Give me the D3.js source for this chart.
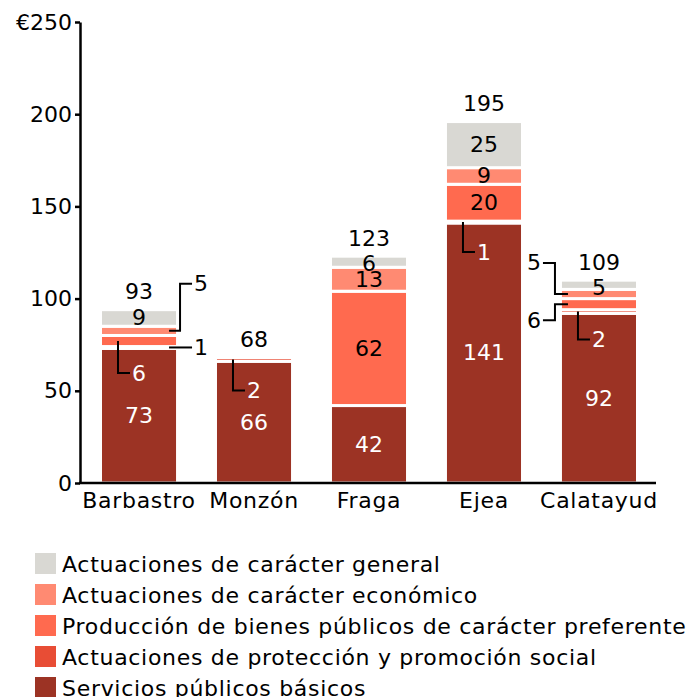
<!DOCTYPE html>
<html lang="es">
<head>
<meta charset="UTF-8">
<title>Gasto por grupos de función</title>
<script src="https://d3js.org/d3.v7.min.js"></script>
<style>
  body { margin: 0; background: #fff; }
  svg text { font-family: "DejaVu Sans", Verdana, sans-serif; font-size: 22px; }
  .axis path, .axis line { stroke: #000; stroke-width: 2.5px; }
  .axis text { fill: #000; }
  .x.axis text, .legend text { letter-spacing: 0.7px; }
  .leader { fill: none; stroke: #000; stroke-width: 2px; }
</style>
</head>
<body>
<script>
// datos
const cities = ["Barbastro", "Monzón", "Fraga", "Ejea", "Calatayud"];
const seriesNames = [
  "Servicios públicos básicos",
  "Actuaciones de protección y promoción social",
  "Producción de bienes públicos de carácter preferente",
  "Actuaciones de carácter económico",
  "Actuaciones de carácter general"
];
const serviciosBasicos = [73, 66, 42, 141, 92];
const proteccionSocial = [1, 2, 0, 1, 2];
const bienesPreferentes = [6, 0, 62, 20, 6];
const caracterEconomico = [5, 0, 13, 9, 5];
const caracterGeneral = [9, 0, 6, 25, 5];
const totals = [93, 68, 123, 195, 109];
const yTicks = [0, 50, 100, 150, 200, 250];
const colors = ["#9c3324", "#e84d35", "#ff6a4f", "#ff8a72", "#d9d8d3"];

// etiquetas con línea guía: ciudad, serie, lado, desplazamiento vertical
const callouts = [
  ["Barbastro", 3, "right", -47],
  ["Barbastro", 1, "right", 0],
  ["Barbastro", 2, "down", 32],
  ["Monzón", 1, "down", 31],
  ["Ejea", 1, "down", 30],
  ["Calatayud", 3, "left", -31],
  ["Calatayud", 2, "left", 16],
  ["Calatayud", 1, "down", 28]
];

const width = 688, height = 697;
const svg = d3.select("body").append("svg")
  .attr("width", width).attr("height", height);

const x = d3.scaleBand().domain(cities).range([79.5, 658.5])
  .paddingInner(0.33).paddingOuter(0.1826);
const y = d3.scaleLinear().domain([0, 250]).range([483, 22]);

const seriesValues = [serviciosBasicos, proteccionSocial, bienesPreferentes, caracterEconomico, caracterGeneral];
const table = cities.map((c, i) => {
  const row = { city: c };
  seriesValues.forEach((s, k) => row[k] = s[i]);
  return row;
});
const stack = d3.stack().keys(d3.range(seriesNames.length))(table);

// barras
const layers = svg.append("g").selectAll("g")
  .data(stack).join("g")
  .attr("fill", (d, k) => colors[k]);

layers.selectAll("rect")
  .data(d => d.filter(p => p[1] > p[0]))
  .join("rect")
  .attr("x", d => x(d.data.city))
  .attr("width", x.bandwidth())
  .attr("y", d => y(d[1]))
  .attr("height", d => y(d[0]) - y(d[1]))
  .attr("stroke", "#fff")
  .attr("stroke-width", 3);

// etiquetas dentro de los segmentos
const isCallout = (city, k) => callouts.some(c => c[0] === city && c[1] === k);
stack.forEach((layer, k) => {
  svg.append("g").selectAll("text")
    .data(layer.filter(p => p[1] > p[0] && !isCallout(p.data.city, k)))
    .join("text")
    .attr("x", d => x(d.data.city) + x.bandwidth() / 2)
    .attr("y", d => Math.max((y(d[0]) + y(d[1])) / 2, y(d[1]) + 7))
    .attr("text-anchor", "middle")
    .attr("dominant-baseline", "central")
    .attr("fill", k === 0 ? "#fff" : "#000")
    .text(d => d[1] - d[0]);
});

// etiquetas con línea guía
callouts.forEach(([city, k, side, dy]) => {
  const i = cities.indexOf(city);
  const p = stack[k][i];
  const ym = (y(p[0]) + y(p[1])) / 2;
  const left = x(city) + 1.5, right = x(city) + x.bandwidth() - 1.5;
  const g = svg.append("g");
  let pts, tx, anchor, fill;
  if (side === "down") {
    pts = [[left + 16, ym], [left + 16, ym + dy], [left + 28, ym + dy]];
    tx = left + 30; anchor = "start"; fill = "#fff";
  } else if (side === "right") {
    pts = dy === 0
      ? [[right - 7, ym], [right + 16, ym]]
      : [[right - 7, ym], [right + 4, ym], [right + 4, ym + dy], [right + 16, ym + dy]];
    tx = right + 18; anchor = "start"; fill = "#000";
  } else {
    pts = [[left + 6, ym], [left - 7, ym], [left - 7, ym + dy], [left - 19, ym + dy]];
    tx = left - 21; anchor = "end"; fill = "#000";
  }
  g.append("path").attr("class", "leader").attr("d", d3.line()(pts));
  g.append("text")
    .attr("x", tx).attr("y", ym + dy)
    .attr("text-anchor", anchor)
    .attr("dominant-baseline", "central")
    .attr("fill", fill)
    .text(p[1] - p[0]);
});

// totales
svg.append("g").selectAll("text")
  .data(table)
  .join("text")
  .attr("x", d => x(d.city) + x.bandwidth() / 2)
  .attr("y", (d, i) => y(stack[stack.length - 1][i][1]) - 18)
  .attr("text-anchor", "middle")
  .attr("dominant-baseline", "central")
  .text((d, i) => totals[i]);

// ejes
svg.append("g").attr("class", "y axis")
  .attr("transform", "translate(80,0)")
  .call(d3.axisLeft(y).tickValues(yTicks).tickSize(5).tickSizeOuter(0).tickPadding(3)
    .tickFormat(d => d === 250 ? "€" + d : d));

svg.append("g").attr("class", "x axis")
  .attr("transform", "translate(0,483)")
  .call(d3.axisBottom(x).tickSize(0).tickPadding(9))
  .call(g => g.select(".domain").attr("d", "M79,0H656"));

svg.selectAll(".axis").attr("font-family", null).attr("font-size", null);

// leyenda
const legend = svg.append("g").attr("class", "legend").selectAll("g")
  .data(d3.range(seriesNames.length).reverse())
  .join("g")
  .attr("transform", (d, j) => `translate(35,${553 + j * 31})`);
legend.append("rect").attr("width", 21).attr("height", 21).attr("fill", d => colors[d]);
legend.append("text")
  .attr("x", 27).attr("y", 11)
  .attr("dominant-baseline", "central")
  .text(d => seriesNames[d]);
</script>
</body>
</html>
